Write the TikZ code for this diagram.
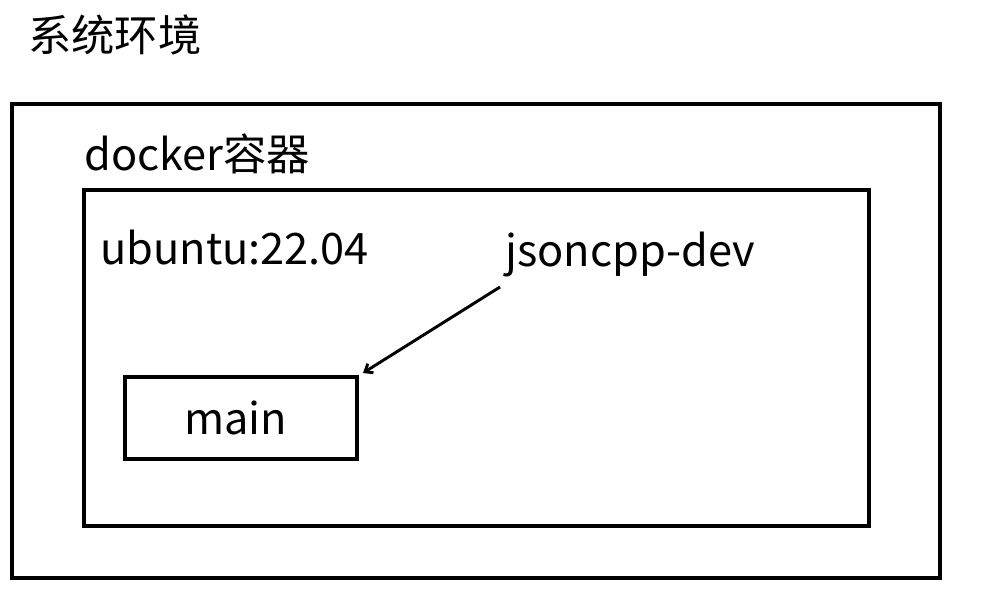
\documentclass[tikz,border=0pt]{standalone}
\usepackage{fontspec}
\setmainfont{Noto Sans CJK SC}
\usetikzlibrary{arrows.meta}

\begin{document}
\begin{tikzpicture}[x=0.75pt, y=-0.75pt, >={Straight Barb[length=5pt,width=8pt]}]
        \useasboundingbox (0,0) rectangle (994,598);
        \tikzset{box/.style={draw=black, line width=3pt, inner sep=0pt},
                 lab/.style={anchor=base west, inner sep=0pt, font=\fontsize{32.5}{38}\selectfont}}
        % the boxes
        \node[box, minimum width=928*0.75pt, minimum height=474*0.75pt] (sys) at (476,341) {};
        \node[box, minimum width=785*0.75pt, minimum height=336*0.75pt] (docker) at (476.5,358) {};
        \node[box, minimum width=232*0.75pt, minimum height=82*0.75pt] (mainbox) at (241,418) {};
        % the labels
        \node[lab] (syslab) at (28,52) {系统环境};
        \node[lab] (dockerlab) at (84,171) {docker容器};
        \node[lab] (ubuntu) at (100,265) {ubuntu:22.04};
        \node[lab] (jsoncpp) at (505,267) {jsoncpp-dev};
        \node[lab] (mainlab) at (184,434) {main};
        % jsoncpp-dev -> main
        \coordinate (jtail) at (500,287);
        \draw[->, line width=2.2pt] (jtail) -- ([shift={(4,-2)}]mainbox.north east);
    \end{tikzpicture}
\end{document}
